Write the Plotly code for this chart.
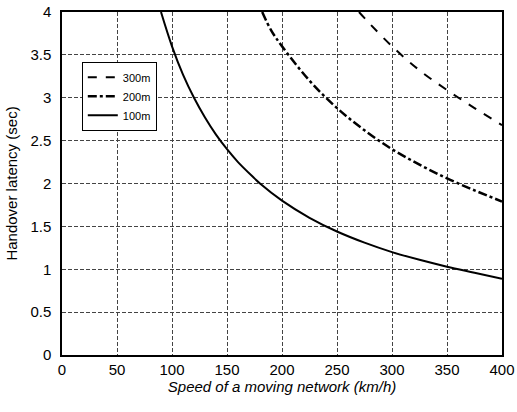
import plotly.graph_objects as go

# Speeds (km/h) and handover latency (sec)
speed_300 = [270, 280, 300, 325, 350, 375, 400]
lat_300 = [4.0, 3.86, 3.6, 3.32, 3.09, 2.88, 2.68]

speed_200 = [182, 190, 200, 225, 250, 275, 300, 325, 350, 375, 400]
lat_200 = [4.0, 3.79, 3.6, 3.2, 2.88, 2.62, 2.4, 2.22, 2.06, 1.92, 1.79]

speed_100 = [90, 100, 110, 120, 130, 140, 150, 160, 175, 180, 200, 225, 250, 275, 300, 325, 350, 375, 400]
lat_100 = [4.0, 3.6, 3.27, 3.0, 2.77, 2.57, 2.4, 2.25, 2.06, 2.0, 1.8, 1.6, 1.44, 1.31, 1.2, 1.11, 1.03, 0.96, 0.89]

x_ticks = [0, 50, 100, 150, 200, 250, 300, 350, 400]
y_ticks = [0, 0.5, 1, 1.5, 2, 2.5, 3, 3.5, 4]
y_tick_text = ["0", "0.5", "1", "1.5", "2", "2.5", "3", "3.5", "4"]

fig = go.Figure()
fig.add_trace(go.Scatter(x=speed_300, y=lat_300, mode="lines", name="300m",
                         line=dict(color="black", width=2, dash="dash", shape="spline")))
fig.add_trace(go.Scatter(x=speed_200, y=lat_200, mode="lines", name="200m",
                         line=dict(color="black", width=2.5, dash="dashdot", shape="spline")))
fig.add_trace(go.Scatter(x=speed_100, y=lat_100, mode="lines", name="100m",
                         line=dict(color="black", width=2, shape="spline")))

fig.update_layout(
    width=517, height=412,
    margin=dict(l=62, r=15, t=12, b=57, autoexpand=False),
    paper_bgcolor="white", plot_bgcolor="white",
    font=dict(family="Arial, Liberation Sans, sans-serif", color="black", size=14),
    legend=dict(x=0.045, y=0.855, xanchor="left", yanchor="top",
                bordercolor="black", borderwidth=1, bgcolor="white",
                font=dict(size=11), tracegroupgap=0, itemwidth=30),
    showlegend=True,
)
fig.update_xaxes(range=[0, 400], tickvals=x_ticks, ticks="", showline=True, linecolor="black",
                 linewidth=1.5, mirror=True, showgrid=True, gridcolor="#444", griddash="4px,2px",
                 gridwidth=1, zeroline=False, automargin=False, tickfont=dict(size=15),
                 title=dict(text="<i>Speed of a moving network (km/h)</i>", font=dict(size=15), standoff=0))
fig.update_yaxes(range=[0, 4], tickvals=y_ticks, ticktext=y_tick_text, ticks="", showline=True,
                 linecolor="black", linewidth=1.5, mirror=True, showgrid=True, gridcolor="#444",
                 griddash="4px,2px", gridwidth=1, zeroline=False, automargin=False,
                 tickfont=dict(size=15), ticklabelstandoff=6,
                 title=dict(text="Handover latency (sec)", font=dict(size=15), standoff=9))

fig.write_html("out.html", config={"displayModeBar": False},
               post_script="document.body.style.margin='0';document.body.style.overflow='hidden';")
